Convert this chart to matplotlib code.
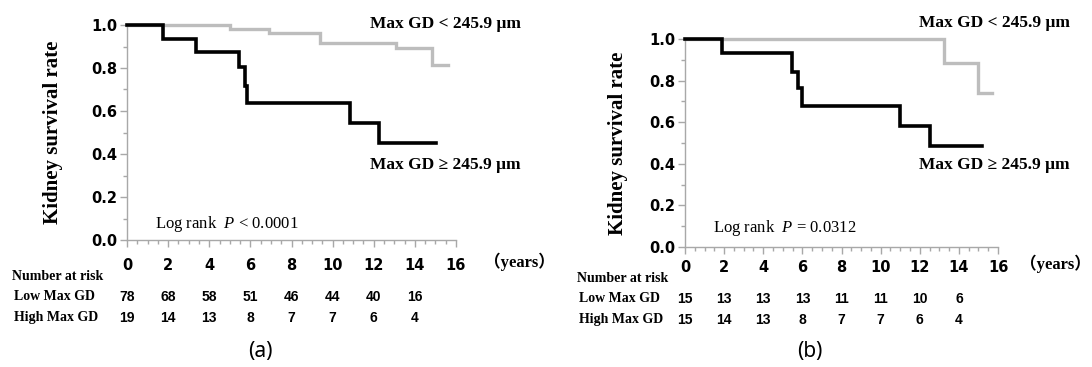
import numpy as np
import matplotlib
matplotlib.use("Agg")
import matplotlib.pyplot as plt
from matplotlib.transforms import blended_transform_factory

plt.rcParams['mathtext.fontset'] = 'custom'
plt.rcParams['mathtext.rm'] = 'Liberation Serif'
plt.rcParams['mathtext.it'] = 'Liberation Serif:italic'

# Kaplan-Meier steps (years, survival)
a_low_t = [0, 5.0, 6.9, 9.4, 13.1, 14.85, 15.6]
a_low_s = [1.0, 0.981, 0.961, 0.915, 0.892, 0.814, 0.814]
a_high_t = [0, 1.75, 3.35, 5.45, 5.75, 5.85, 10.85, 12.25, 15.05]
a_high_s = [1.0, 0.937, 0.873, 0.803, 0.718, 0.636, 0.546, 0.453, 0.453]

b_low_t = [0, 13.25, 15.0, 15.7]
b_low_s = [1.0, 0.883, 0.739, 0.739]
b_high_t = [0, 1.9, 5.45, 5.8, 6.0, 11.0, 12.5, 15.2]
b_high_s = [1.0, 0.933, 0.843, 0.766, 0.678, 0.583, 0.487, 0.487]

# number at risk
risk_years = [0, 2, 4, 6, 8, 10, 12, 14]
a_risk_low = [78, 68, 58, 51, 46, 44, 40, 16]
a_risk_high = [19, 14, 13, 8, 7, 7, 6, 4]
b_risk_low = [15, 13, 13, 13, 11, 11, 10, 6]
b_risk_high = [15, 14, 13, 8, 7, 7, 6, 4]

W, H = 1092, 367
fig = plt.figure(figsize=(W / 100, H / 100), dpi=100)

def fx(px):
    return px / W

def fy(py):
    return 1 - py / H

serif = 'Liberation Serif'
gray_line = '#bdbdbd'
spine_col = '#a8a8a8'


def panel(rect, low_t, low_s, high_t, high_s, risk_low, risk_high, ptext,
          xpad, ylab_x, ylab_y, years_xy, logrank_xy,
          risk_label_x, risk_rows_y, letter, letter_xy, gd_x, gd_y_hi, gd_y_lo):
    l, t, r, b = rect
    ax = fig.add_axes([fx(l), fy(b), fx(r - l), (b - t) / H])
    ax.step(low_t, low_s, where='post', color=gray_line, lw=2.4, clip_on=False,
            solid_joinstyle='miter')
    ax.step(high_t, high_s, where='post', color='black', lw=2.6, clip_on=False,
            solid_joinstyle='miter', zorder=3)
    ax.set_xlim(0, 16)
    ax.set_ylim(0, 1.0)
    ax.set_xticks(np.arange(0, 17, 2))
    ax.set_xticks(np.arange(0, 16.1, 0.5), minor=True)
    ax.set_yticks(np.arange(0, 1.01, 0.2))
    ax.set_yticks(np.arange(0, 1.01, 0.1), minor=True)
    ax.set_yticklabels(['0.0', '0.2', '0.4', '0.6', '0.8', '1.0'])
    for s in ['top', 'right']:
        ax.spines[s].set_visible(False)
    for s in ['left', 'bottom']:
        ax.spines[s].set_color(spine_col)
        ax.spines[s].set_linewidth(1.0)
    ax.tick_params(axis='both', which='major', length=5, color=spine_col, width=1)
    ax.tick_params(axis='both', which='minor', length=3, color=spine_col, width=1)
    ax.tick_params(axis='x', pad=xpad)
    ax.tick_params(axis='y', pad=2)
    for lab in ax.get_xticklabels() + ax.get_yticklabels():
        lab.set_fontweight('bold')
        lab.set_fontsize(10.5)
        lab.set_family('DejaVu Sans')

    fig.text(fx(ylab_x), fy(ylab_y), 'Kidney survival rate', rotation=90,
             ha='center', va='center', family=serif, fontweight='bold', fontsize=15)
    fig.text(fx(years_xy[0]), fy(years_xy[1]), '（years）', ha='left', va='center',
             family=[serif, 'Noto Sans CJK JP'], fontweight='bold', fontsize=12)
    fig.text(fx(logrank_xy[0]), fy(logrank_xy[1]), ptext, ha='left', va='center',
             family=serif, fontsize=12)

    ax.text(gd_x, gd_y_hi, 'Max GD < 245.9 μm', transform=ax.transData,
            ha='left', va='center', family=serif, fontweight='bold', fontsize=12.5,
            clip_on=False)
    ax.text(gd_x, gd_y_lo, 'Max GD ≥ 245.9 μm', transform=ax.transData,
            ha='left', va='center', family=serif, fontweight='bold', fontsize=12.5,
            clip_on=False)

    # risk table
    trans = blended_transform_factory(ax.transData, fig.transFigure)
    fig.text(fx(risk_label_x), fy(risk_rows_y[0]), 'Number at risk', ha='left',
             va='center', family=serif, fontweight='bold', fontsize=10)
    fig.text(fx(risk_label_x + 2), fy(risk_rows_y[1]), 'Low Max GD', ha='left',
             va='center', family=serif, fontweight='bold', fontsize=10)
    fig.text(fx(risk_label_x + 2), fy(risk_rows_y[2]), 'High Max GD', ha='left',
             va='center', family=serif, fontweight='bold', fontsize=10)
    for yr, n in zip(risk_years, risk_low):
        ax.text(yr, fy(risk_rows_y[1]), str(n), transform=trans, ha='center',
                va='center', family='Liberation Sans', fontweight='bold', fontsize=10)
    for yr, n in zip(risk_years, risk_high):
        ax.text(yr, fy(risk_rows_y[2]), str(n), transform=trans, ha='center',
                va='center', family='Liberation Sans', fontweight='bold', fontsize=10)

    fig.text(fx(letter_xy[0]), fy(letter_xy[1]), letter, ha='center', va='center',
             family='Noto Sans', fontsize=15)
    return ax


panel((127, 25, 456, 240), a_low_t, a_low_s, a_high_t, a_high_s,
      a_risk_low, a_risk_high, r'Log rank  $P$ < 0.0001',
      8, 53, 132, (484, 262), (155, 224),
      12, (276, 297, 318), '(a)', (260, 352), 11.8, 1.005, 0.35)

panel((685, 39, 998, 247), b_low_t, b_low_s, b_high_t, b_high_s,
      b_risk_low, b_risk_high, r'Log rank  $P$ = 0.0312',
      4, 618, 143, (1020, 264), (713, 228),
      577, (279, 299, 320), '(b)', (810, 352), 11.95, 1.077, 0.394)

fig.savefig('out.png', dpi=100, facecolor='white')
